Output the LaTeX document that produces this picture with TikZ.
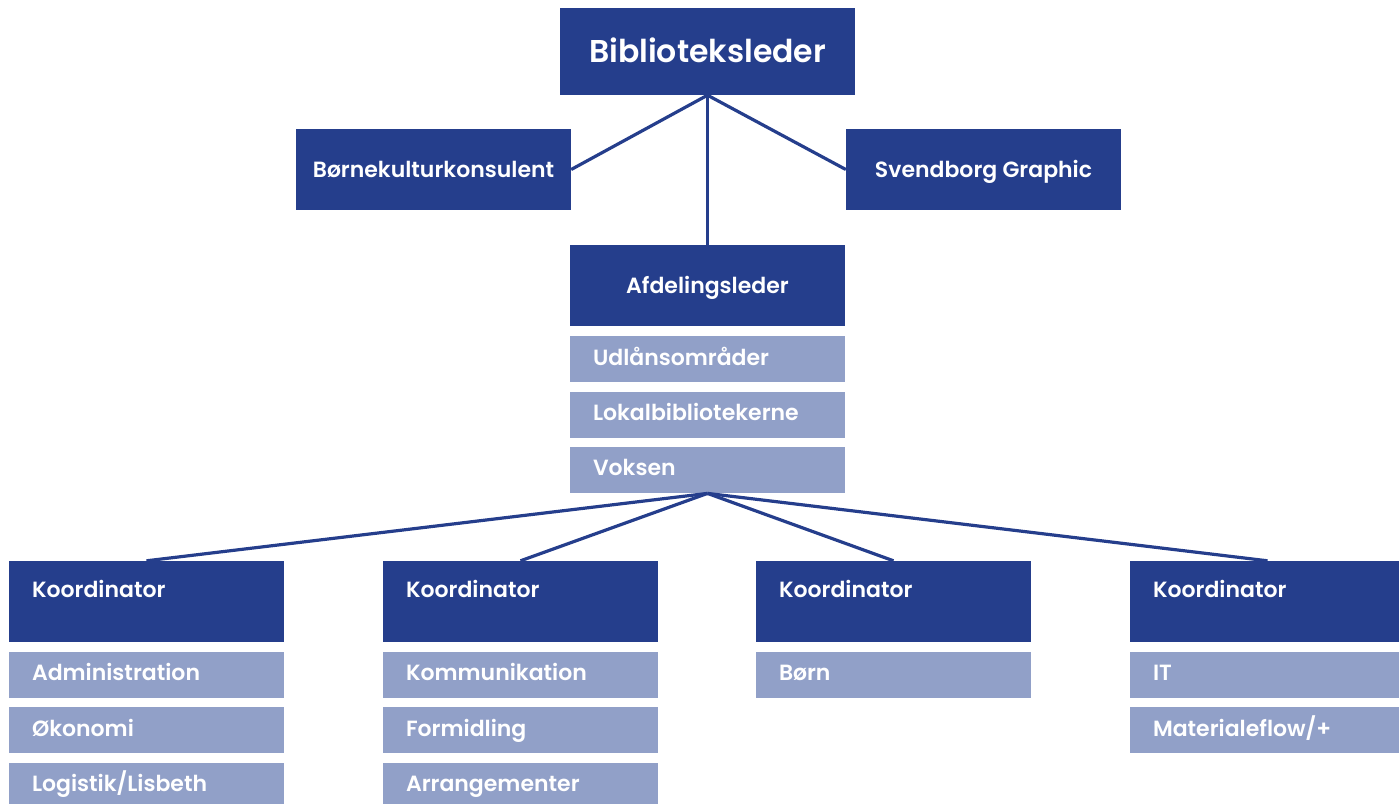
\documentclass[tikz,border=0pt]{standalone}
\usepackage{fontspec}
\setmainfont{Poppins}[BoldFont={Poppins SemiBold}]
\usetikzlibrary{positioning}
\definecolor{orgdark}{HTML}{253E8C}
\definecolor{orglight}{HTML}{91A0C8}
\tikzset{
  headbox/.style={fill=orgdark, text=white, inner sep=0pt, font=\bfseries\fontsize{22}{26}\selectfont, minimum width=275pt, minimum height=81pt, align=center, text height=15.5pt, text depth=0pt},
  coordbox/.style={headbox, align=left, text width=229pt, text height=16pt, text depth=25pt},
  unitbox/.style={headbox, fill=orglight, minimum height=46pt, align=left, text width=229pt, text height=16pt, text depth=4.5pt},
  orgline/.style={draw=orgdark, line width=3.2pt}
}

\begin{document}
\begin{tikzpicture}[x=1pt, y=-1pt]
\useasboundingbox (0,0) rectangle (1399,803);
\node[headbox, minimum width=295pt, minimum height=87pt, font=\bfseries\fontsize{31.5}{37}\selectfont, text height=22pt] (bib) at (707.5,51.5) {Biblioteksleder};
\node[headbox] (bkk) at (433.5,169.5) {Børnekulturkonsulent};
\node[headbox] (svg) at (983.5,169.5) {Svendborg Graphic};
\node[headbox] (afd) at (707.5,285.5) {Afdelingsleder};
\node[unitbox, below=10pt of afd] (udl) {Udlånsområder};
\node[unitbox, below=9pt of udl] (lok) {Lokalbibliotekerne};
\node[unitbox, below=9pt of lok] (vok) {Voksen};
\foreach \x/\k in {146.5/k1, 520.5/k2, 893.5/k3, 1267.5/k4}
  \node[coordbox] (\k) at (\x,601.5) {Koordinator};
\node[unitbox, below=9.5pt of k1] (adm) {Administration};
\node[unitbox, below=9pt of adm] (oko) {Økonomi};
\node[unitbox, below=9pt of oko] (log) {Logistik/Lisbeth};
\node[unitbox, below=9.5pt of k2] (kom) {Kommunikation};
\node[unitbox, below=9pt of kom] (frm) {Formidling};
\node[unitbox, below=9pt of frm] (arr) {Arrangementer};
\node[unitbox, below=9.5pt of k3] (brn) {Børn};
\node[unitbox, below=9.5pt of k4] (it) {IT};
\node[unitbox, below=9pt of it] (mat) {Materialeflow/+};
\draw[orgline] (bib.south) -- (bkk.east);
\draw[orgline] (bib.south) -- (svg.west);
\draw[orgline] (bib.south) -- (afd.north);
\foreach \k in {k1,k2,k3,k4}
  \draw[orgline] (vok.south) -- (\k.north);
\end{tikzpicture}
\end{document}
